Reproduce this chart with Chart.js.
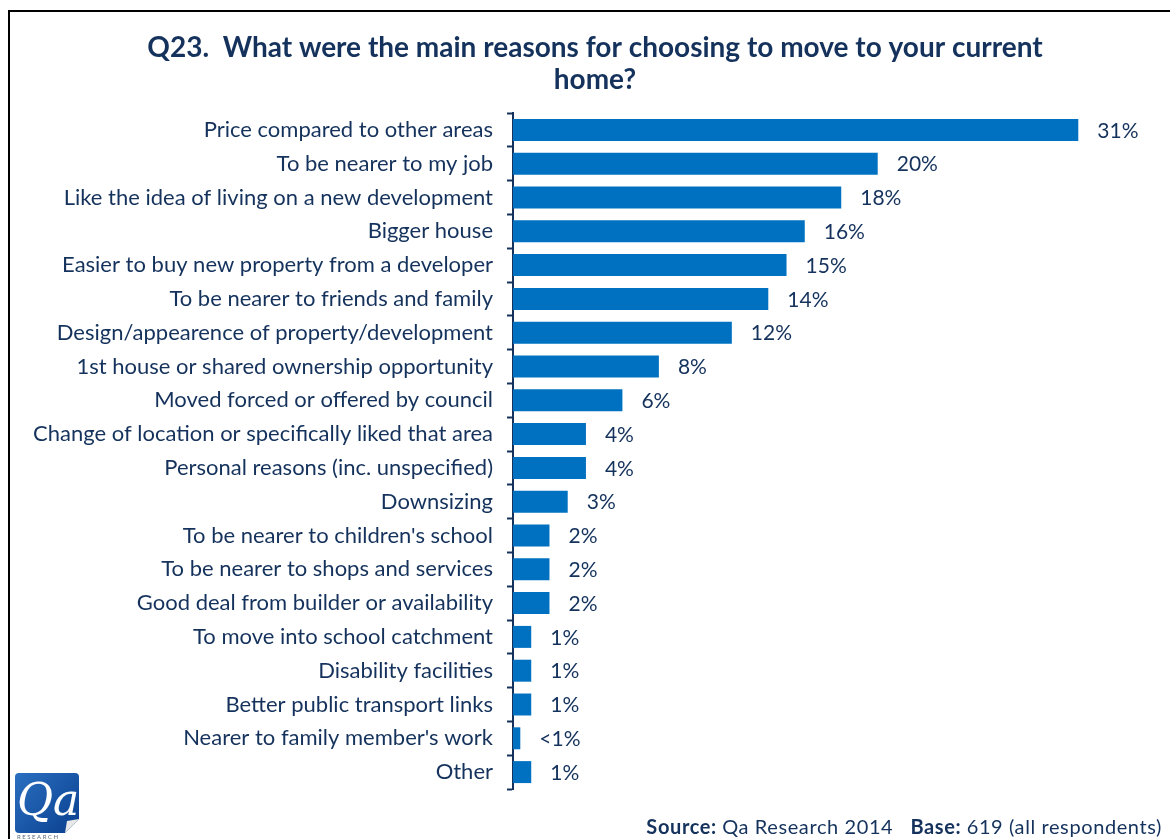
<!DOCTYPE html>
<html>
<head>
<meta charset="utf-8">
<script src="https://cdn.jsdelivr.net/npm/chart.js@4"></script>
<style>
  html, body { margin: 0; padding: 0; background: #ffffff; }
  #wrap { width: 1170px; height: 839px; position: relative; }
</style>
</head>
<body>
<div id="wrap"><canvas id="chart" width="1170" height="839"></canvas></div>
<script>
// Reasons for moving, share of respondents (%)
const reasons = [
  "Price compared to other areas",
  "To be nearer to my job",
  "Like the idea of living on a new development",
  "Bigger house",
  "Easier to buy new property from a developer",
  "To be nearer to friends and family",
  "Design/appearence of property/development",
  "1st house or shared ownership opportunity",
  "Moved forced or offered by council",
  "Change of location or specifically liked that area",
  "Personal reasons (inc. unspecified)",
  "Downsizing",
  "To be nearer to children's school",
  "To be nearer to shops and services",
  "Good deal from builder or availability",
  "To move into school catchment",
  "Disability facilities",
  "Better public transport links",
  "Nearer to family member's work",
  "Other"
];
const shares = [31, 20, 18, 16, 15, 14, 12, 8, 6, 4, 4, 3, 2, 2, 2, 1, 1, 1, 0.4, 1];
const shareLabels = ["31%", "20%", "18%", "16%", "15%", "14%", "12%", "8%", "6%", "4%",
                     "4%", "3%", "2%", "2%", "2%", "1%", "1%", "1%", "<1%", "1%"];

const titleLines = ["Q23.  What were the main reasons for choosing to move to your current", "home?"];

const NAVY = "#14325c";
const BAR = "#0070c0";
const FONT = "Lato, 'Open Sans', sans-serif";

// Two-line heading, centred over the plot block
const heading = {
  id: "heading",
  afterDraw(chart) {
    const ctx = chart.ctx;
    ctx.save();
    ctx.fillStyle = NAVY;
    ctx.font = "bold 28px " + FONT;
    ctx.textAlign = "center";
    ctx.textBaseline = "alphabetic";
    ctx.fillText(titleLines[0], 595, 57);
    ctx.fillText(titleLines[1], 595, 89);
    ctx.restore();
  }
};

// Value labels at the end of each bar
const valueLabels = {
  id: "valueLabels",
  afterDatasetsDraw(chart) {
    const ctx = chart.ctx;
    const meta = chart.getDatasetMeta(0);
    ctx.save();
    ctx.font = "21px " + FONT;
    ctx.fillStyle = NAVY;
    ctx.textAlign = "left";
    ctx.textBaseline = "middle";
    meta.data.forEach((bar, i) => {
      ctx.fillText(shareLabels[i], bar.x + 19, bar.y + 1);
    });
    ctx.restore();
  }
};

// Frame, logo and source note
const decorations = {
  id: "decorations",
  afterDraw(chart) {
    const ctx = chart.ctx;
    ctx.save();
    // frame (left and top edges)
    ctx.strokeStyle = "#000000";
    ctx.lineWidth = 2;
    ctx.beginPath();
    ctx.moveTo(9, 839);
    ctx.lineTo(9, 11);
    ctx.lineTo(1170, 11);
    ctx.stroke();

    // Qa logo
    const lx = 15, ly = 773, lw = 64, lh = 60;
    const g = ctx.createLinearGradient(lx, ly, lx + lw, ly + lh);
    g.addColorStop(0, "#2a6fc0");
    g.addColorStop(1, "#0b3f8f");
    ctx.fillStyle = g;
    ctx.beginPath();
    ctx.moveTo(lx + 4, ly);
    ctx.lineTo(lx + lw - 4, ly);
    ctx.quadraticCurveTo(lx + lw, ly, lx + lw, ly + 4);
    ctx.lineTo(lx + lw, ly + lh - 14);
    ctx.lineTo(lx + lw - 14, ly + lh);
    ctx.lineTo(lx + 4, ly + lh);
    ctx.quadraticCurveTo(lx, ly + lh, lx, ly + lh - 4);
    ctx.lineTo(lx, ly + 4);
    ctx.quadraticCurveTo(lx, ly, lx + 4, ly);
    ctx.fill();
    ctx.fillStyle = "#e8e8e8";
    ctx.beginPath();
    ctx.moveTo(lx + lw, ly + lh - 14);
    ctx.lineTo(lx + lw - 14, ly + lh);
    ctx.lineTo(lx + lw - 12, ly + lh - 12);
    ctx.closePath();
    ctx.fill();
    ctx.fillStyle = "#ffffff";
    ctx.font = "italic 44px 'DejaVu Serif', 'Liberation Serif', serif";
    ctx.textAlign = "left";
    ctx.textBaseline = "alphabetic";
    ctx.fillText("Qa", lx + 2, ly + 42);
    ctx.fillStyle = "#5a6b80";
    ctx.font = "6px " + FONT;
    ctx.fillText("R E S E A R C H", lx + 2, ly + 66);

    // source note
    ctx.fillStyle = NAVY;
    ctx.textBaseline = "alphabetic";
    if ("letterSpacing" in ctx) ctx.letterSpacing = "0.6px";
    const y = 834;
    const parts = [
      ["bold 20px " + FONT, "Source: "],
      ["20px " + FONT, "Qa Research 2014   "],
      ["bold 20px " + FONT, "Base: "],
      ["20px " + FONT, "619 (all respondents)"]
    ];
    let total = 0;
    parts.forEach(p => { ctx.font = p[0]; total += ctx.measureText(p[1]).width; });
    let x = 1162 - total;
    parts.forEach(p => { ctx.font = p[0]; ctx.fillText(p[1], x, y); x += ctx.measureText(p[1]).width; });
    ctx.restore();
  }
};

new Chart(document.getElementById("chart"), {
  type: "bar",
  data: {
    labels: reasons,
    datasets: [{
      data: shares,
      backgroundColor: BAR,
      borderWidth: 0,
      categoryPercentage: 1.0,
      barPercentage: 0.65
    }]
  },
  options: {
    indexAxis: "y",
    responsive: false,
    animation: false,
    layout: { padding: { top: 113, right: 37, bottom: 50, left: 0 } },
    plugins: {
      legend: { display: false },
      tooltip: { enabled: false },
      title: { display: false }
    },
    scales: {
      x: {
        display: false,
        min: 0,
        max: 34
      },
      y: {
        afterFit(scale) { scale.width = 513; },
        grid: {
          display: true,
          drawOnChartArea: false,
          drawTicks: true,
          tickLength: 6,
          tickWidth: 2,
          color: NAVY,
          offset: true
        },
        border: { display: true, color: NAVY, width: 2 },
        ticks: {
          color: NAVY,
          padding: 14,
          autoSkip: false,
          font: { family: FONT, size: 22 }
        }
      }
    }
  },
  plugins: [heading, valueLabels, decorations]
});
</script>
</body>
</html>
